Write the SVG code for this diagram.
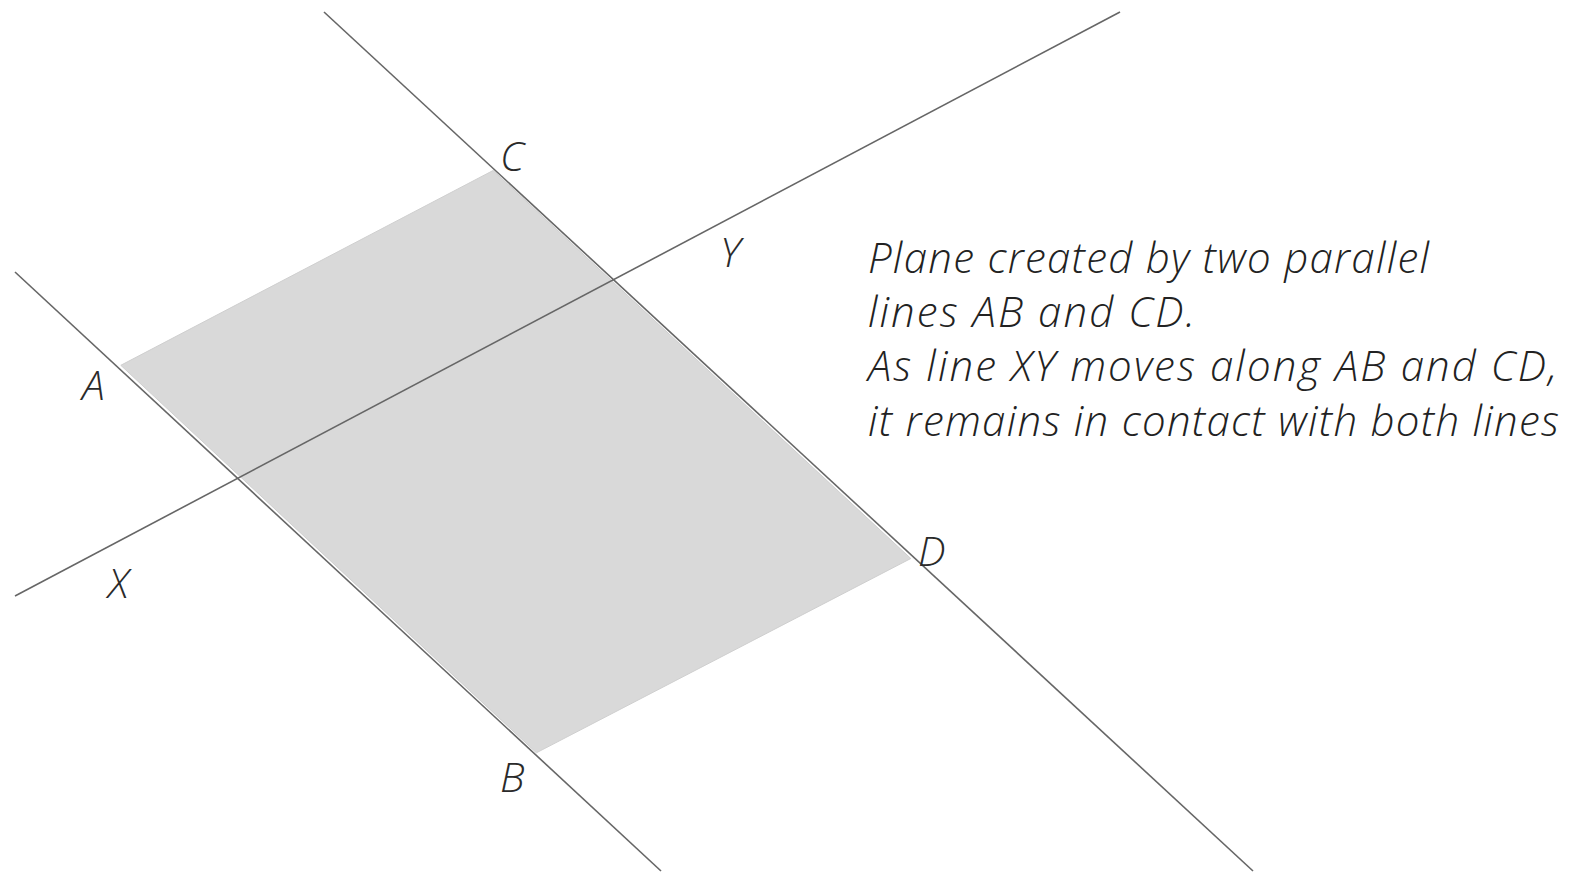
<svg xmlns="http://www.w3.org/2000/svg" width="1578" height="873" viewBox="0 0 1578 873">
<style>
.ln{stroke:#666666;stroke-width:1.6;fill:none}
.lbl{font-family:"Open Sans","Liberation Sans",sans-serif;font-style:italic;font-weight:300;font-size:41px;fill:#2a2a2a}
.txt{font-family:"Open Sans","Liberation Sans",sans-serif;font-style:italic;font-weight:300;font-size:42px;fill:#222222}
</style>
<rect width="1578" height="873" fill="#ffffff"/>
<g id="plane">
<polygon points="120.8,365.3 493.1,170.5 910.8,558.5 536.4,752.8" fill="#d9d9d9" stroke="#cfcfcf" stroke-width="1"/>
</g>
<g id="connectors">
<line id="lineAB" class="ln" x1="15" y1="272" x2="661" y2="871"/>
<line id="lineCD" class="ln" x1="324" y1="12" x2="1253" y2="871"/>
<line id="lineXY" class="ln" x1="15" y1="596" x2="1120" y2="12"/>
</g>
<g id="labels">
<text id="C" class="lbl" x="500" y="171">C</text>
<text id="Y" class="lbl" x="720" y="267">Y</text>
<text id="A" class="lbl" x="82" y="400">A</text>
<text id="X" class="lbl" x="108" y="598">X</text>
<text id="D" class="lbl" x="918" y="566">D</text>
<text id="B" class="lbl" x="500" y="792">B</text>
</g>
<g id="caption">
<text class="txt" x="868" y="273" textLength="561" lengthAdjust="spacing">Plane created by two parallel</text>
<text class="txt" x="868" y="327" textLength="327" lengthAdjust="spacing">lines AB and CD.</text>
<text class="txt" x="868" y="381" textLength="689" lengthAdjust="spacing">As line XY moves along AB and CD,</text>
<text class="txt" x="868" y="436" textLength="691" lengthAdjust="spacing">it remains in contact with both lines</text>
</g>
</svg>
